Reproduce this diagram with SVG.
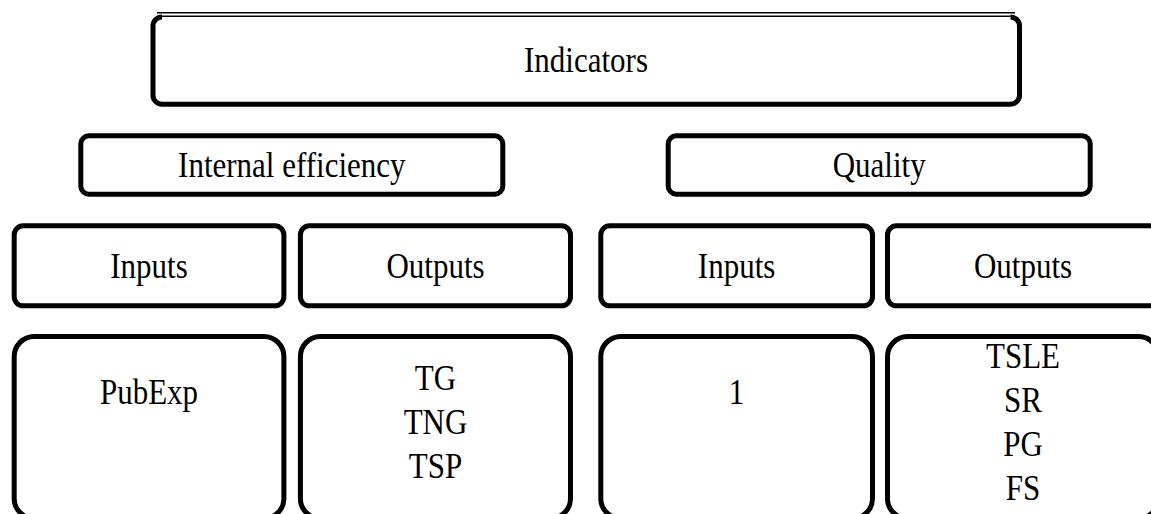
<svg xmlns="http://www.w3.org/2000/svg" width="1151" height="514" viewBox="0 0 1151 514">
  <style>
    .box { fill: #ffffff; stroke: #000000; stroke-width: 5; }
    .edge { fill: none; stroke: #000000; stroke-width: 5; }
    .hair { fill: none; stroke: #000000; stroke-width: 1.4; }
    .lbl { font-family: "Liberation Serif", "DejaVu Serif", "Times New Roman", serif; font-size: 31px; fill: #000000; text-anchor: middle; }
  </style>
  <rect width="1151" height="514" fill="#ffffff"/>

  <!-- root node: sides and bottom heavy, top drawn as a double hairline -->
  <g id="indicators">
    <path class="edge" d="M 162 17 A 9 9 0 0 0 153 26 L 153 95.2 A 9 9 0 0 0 162 104.2 L 1010.5 104.2 A 9 9 0 0 0 1019.5 95.2 L 1019.5 26 A 9 9 0 0 0 1010.5 17"/>
    <line class="hair" x1="162" y1="16.3" x2="1010.5" y2="16.3"/>
    <line class="hair" x1="157" y1="12.8" x2="1015" y2="12.8"/>
    <text class="lbl" transform="translate(586 72) scale(1 1.18)">Indicators</text>
  </g>

  <!-- second level -->
  <g id="internal-efficiency">
    <rect class="box" x="80.8" y="135.8" width="422" height="58.4" rx="8"/>
    <text class="lbl" transform="translate(291.8 177) scale(1 1.18)">Internal efficiency</text>
  </g>
  <g id="quality">
    <rect class="box" x="668.2" y="135.8" width="422" height="58.4" rx="8"/>
    <text class="lbl" transform="translate(879.2 177) scale(1 1.18)">Quality</text>
  </g>

  <!-- third level -->
  <g id="ie-inputs">
    <rect class="box" x="14.2" y="225.8" width="269.7" height="80" rx="9"/>
    <text class="lbl" transform="translate(149 277.5) scale(1 1.18)">Inputs</text>
  </g>
  <g id="ie-outputs">
    <rect class="box" x="300.4" y="225.8" width="270.1" height="80" rx="9"/>
    <text class="lbl" transform="translate(435.5 277.5) scale(1 1.18)">Outputs</text>
  </g>
  <g id="q-inputs">
    <rect class="box" x="600.8" y="225.8" width="271.7" height="80" rx="9"/>
    <text class="lbl" transform="translate(736.6 277.5) scale(1 1.18)">Inputs</text>
  </g>
  <g id="q-outputs">
    <rect class="box" x="887.5" y="225.8" width="271" height="80" rx="9"/>
    <text class="lbl" transform="translate(1023 277.5) scale(1 1.18)">Outputs</text>
  </g>

  <!-- leaf level -->
  <g id="ie-inputs-list">
    <rect class="box" x="14.2" y="336.5" width="269.7" height="182" rx="20"/>
    <text class="lbl" transform="translate(149 404) scale(1 1.18)">PubExp</text>
  </g>
  <g id="ie-outputs-list">
    <rect class="box" x="300.4" y="336.5" width="270.1" height="182" rx="20"/>
    <text class="lbl" transform="translate(435.5 390) scale(1 1.18)">TG</text>
    <text class="lbl" transform="translate(435.5 434) scale(1 1.18)">TNG</text>
    <text class="lbl" transform="translate(435.5 478) scale(1 1.18)">TSP</text>
  </g>
  <g id="q-inputs-list">
    <rect class="box" x="600.8" y="336.5" width="271.7" height="182" rx="20"/>
    <text class="lbl" transform="translate(736.6 404) scale(1 1.18)">1</text>
  </g>
  <g id="q-outputs-list">
    <rect class="box" x="887.5" y="336.5" width="271" height="182" rx="20"/>
    <text class="lbl" transform="translate(1023 368) scale(1 1.18)">TSLE</text>
    <text class="lbl" transform="translate(1023 412) scale(1 1.18)">SR</text>
    <text class="lbl" transform="translate(1023 456) scale(1 1.18)">PG</text>
    <text class="lbl" transform="translate(1023 500) scale(1 1.18)">FS</text>
  </g>

  <!-- the hierarchy is shown by nesting alone; no connector lines are drawn -->
  <g id="connectors"/>
</svg>
